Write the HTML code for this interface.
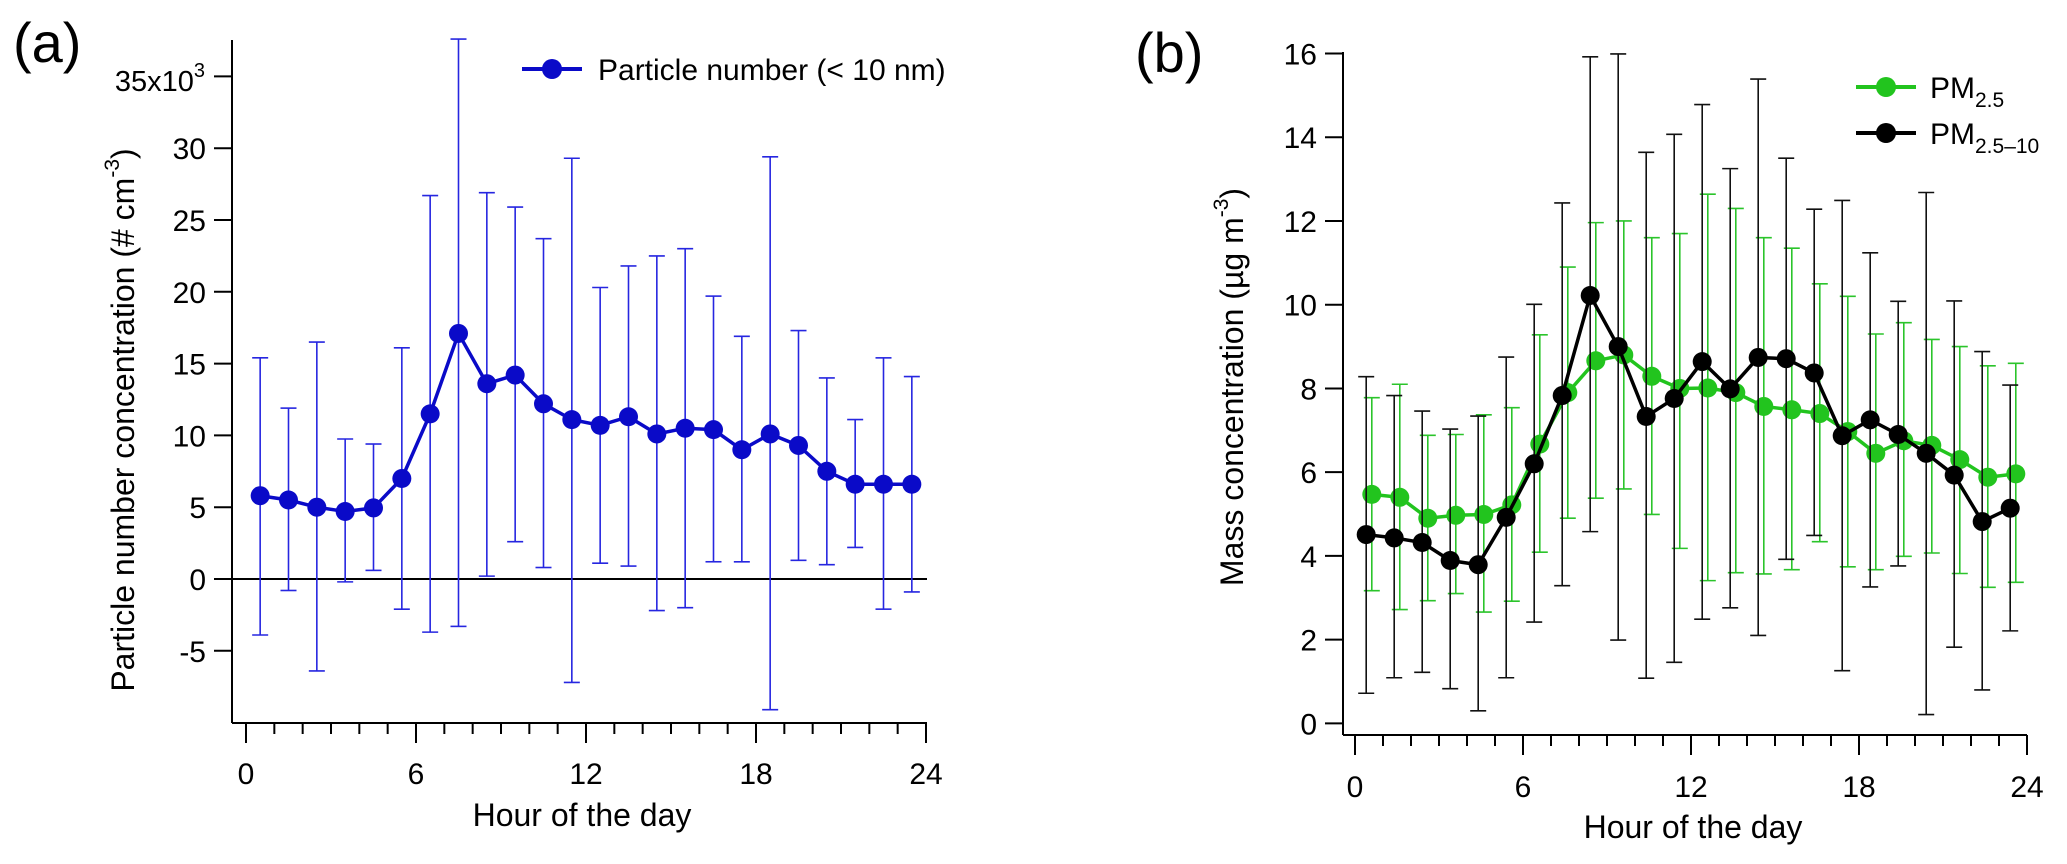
<!DOCTYPE html>
<html><head><meta charset="utf-8"><style>
html,body{margin:0;padding:0;background:#fff;}
svg{display:block;font-family:"Liberation Sans",Arial,sans-serif;}
</style></head><body>
<svg id="chart" width="2067" height="864" viewBox="0 0 2067 864" xmlns="http://www.w3.org/2000/svg">
<g id="pa"></g>
<g id="pb"></g>
</svg>
<script>
const hours = [0.5,1.5,2.5,3.5,4.5,5.5,6.5,7.5,8.5,9.5,10.5,11.5,12.5,13.5,14.5,15.5,16.5,17.5,18.5,19.5,20.5,21.5,22.5,23.5];
const pnMean = [5.8,5.5,5.0,4.7,4.95,7.0,11.5,17.1,13.6,14.2,12.2,11.1,10.7,11.3,10.1,10.5,10.4,9.0,10.1,9.3,7.5,6.6,6.6,6.6];
const pnHigh = [15.4,11.9,16.5,9.75,9.4,16.1,26.7,37.6,26.9,25.9,23.7,29.3,20.3,21.8,22.5,23.0,19.7,16.9,29.4,17.3,14.0,11.1,15.4,14.1];
const pnLow = [-3.9,-0.8,-6.4,-0.2,0.6,-2.1,-3.7,-3.3,0.2,2.6,0.8,-7.2,1.1,0.9,-2.2,-2.0,1.2,1.2,-9.1,1.3,1.0,2.2,-2.1,-0.9];
const pm25Mean = [5.47,5.4,4.9,4.97,4.99,5.22,6.67,7.9,8.66,8.8,8.29,8.0,8.01,7.9,7.57,7.49,7.4,6.97,6.45,6.75,6.64,6.3,5.88,5.96];
const pm25High = [7.78,8.1,6.88,6.9,7.37,7.54,9.28,10.9,11.96,12.0,11.6,11.7,12.64,12.3,11.6,11.35,10.5,10.2,9.3,9.57,9.17,9.0,8.54,8.6];
const pm25Low = [3.17,2.72,2.93,3.1,2.66,2.92,4.09,4.9,5.38,5.6,4.99,4.18,3.41,3.6,3.57,3.67,4.34,3.74,3.67,3.99,4.07,3.58,3.25,3.37];
const pmcMean = [4.51,4.43,4.32,3.89,3.79,4.92,6.2,7.83,10.22,9.0,7.33,7.76,8.64,7.99,8.74,8.71,8.37,6.87,7.25,6.9,6.45,5.93,4.82,5.14];
const pmcHigh = [8.28,7.83,7.46,7.03,7.34,8.75,10.01,12.43,15.92,15.99,13.64,14.07,14.78,13.25,15.39,13.5,12.28,12.49,11.24,10.08,12.68,10.09,8.88,8.08];
const pmcLow = [0.72,1.09,1.22,0.83,0.3,1.09,2.42,3.29,4.58,1.99,1.08,1.46,2.49,2.76,2.1,3.92,4.49,1.26,3.26,3.76,0.21,1.82,0.8,2.21];
const xTicks = [0,6,12,18,24];
const aTicks = [-5,0,5,10,15,20,25,30,35];
const bTicks = [0,2,4,6,8,10,12,14,16];

const NS="http://www.w3.org/2000/svg";
function mk(parent,tag,attrs,text){const e=document.createElementNS(NS,tag);for(const k in attrs)e.setAttribute(k,attrs[k]);if(text!==undefined)e.textContent=text;parent.appendChild(e);return e;}

function axes(g,P,yTicks,yfmt){
  let e=mk(g,'line',{x1:P.axX,y1:P.yTop,x2:P.axX,y2:P.axY,stroke:'#000','stroke-width':2});
  
  
  e=mk(g,'line',{x1:P.axX,y1:P.axY,x2:P.xEnd,y2:P.axY,stroke:'#000','stroke-width':2});
  
  
  yTicks.forEach(t=>{
    const y=P.y(t);
    mk(g,'line',{x1:P.axX-18,y1:y,x2:P.axX,y2:y,stroke:'#000','stroke-width':2});
    const tx=mk(g,'text',{x:P.axX-26,y:y+11,'text-anchor':'end','font-size':30},yfmt(t));
    
    
  });
  for(let h=0;h<=24;h++){
    const x=P.x(h);const major=h%6===0;
    mk(g,'line',{x1:x,y1:P.axY,x2:x,y2:P.axY+(major?20:11),stroke:'#000','stroke-width':2});
  }
  xTicks.forEach(t=>{
    const tx=mk(g,'text',{x:P.x(t),y:P.tickY,'text-anchor':'middle','font-size':30},String(t));
    
    
  });
}
function series(g,P,means,hi,lo,off,color,ecolor,name){
  const sg=mk(g,'g',{});
  
  
  hours.forEach((h,i)=>{
    const x=P.x(h+off);
    mk(sg,'line',{x1:x,y1:P.y(hi[i]),x2:x,y2:P.y(lo[i]),stroke:ecolor,'stroke-width':1.6});
    mk(sg,'line',{x1:x-8,y1:P.y(hi[i]),x2:x+8,y2:P.y(hi[i]),stroke:ecolor,'stroke-width':1.6});
    mk(sg,'line',{x1:x-8,y1:P.y(lo[i]),x2:x+8,y2:P.y(lo[i]),stroke:ecolor,'stroke-width':1.6});
  });
  mk(sg,'polyline',{points:hours.map((h,i)=>P.x(h+off)+','+P.y(means[i])).join(' '),fill:'none',stroke:color,'stroke-width':3.5});
  hours.forEach((h,i)=>{
    const c=mk(sg,'circle',{cx:P.x(h+off),cy:P.y(means[i]),r:9.5,fill:color});
    
    
  });
}

// Panel A
const ga=document.getElementById('pa');
const PA={axX:232,yTop:40,axY:723,xEnd:927,tickY:784,x:h=>246+h*(680/24),y:v=>579-v*14.36};
axes(ga,PA,aTicks,t=>t===35?'':String(t));
let t=mk(ga,'text',{x:205,y:91,'text-anchor':'end','font-size':29});
t.innerHTML='35x10<tspan dy="-14" font-size="20">3</tspan>';


let zl=mk(ga,'line',{x1:PA.axX,y1:PA.y(0),x2:927,y2:PA.y(0),stroke:'#000','stroke-width':2});


series(ga,PA,pnMean,pnHigh,pnLow,0,'#0a0ac8','#2626e0','particle-number-series');
t=mk(ga,'text',{x:13,y:62,'font-size':56},'(a)');


t=mk(ga,'text',{x:582,y:826,'text-anchor':'middle','font-size':32},'Hour of the day');


t=mk(ga,'text',{x:0,y:0,'text-anchor':'middle','font-size':32,transform:'translate(134,420) rotate(-90)'});
t.innerHTML='Particle number concentration  (# cm<tspan dy="-15" font-size="21">-3</tspan><tspan dy="15">)</tspan>';


let lg=mk(ga,'g',{});


mk(lg,'line',{x1:522,y1:69,x2:582,y2:69,stroke:'#0a0ac8','stroke-width':4});
mk(lg,'circle',{cx:552,cy:69,r:10,fill:'#0a0ac8'});
mk(lg,'text',{x:598,y:80,'font-size':30},'Particle number (< 10 nm)');

// Panel B
const gb=document.getElementById('pb');
const PB={axX:1343,yTop:52,axY:735,xEnd:2027,tickY:797,x:h=>1355+h*(672/24),y:v=>723.4-v*41.87};
axes(gb,PB,bTicks,t=>String(t));
series(gb,PB,pm25Mean,pm25High,pm25Low,0.1,'#22c41e','#2bc42b','pm25-series');
series(gb,PB,pmcMean,pmcHigh,pmcLow,-0.1,'#000','#111','pm25-10-series');
t=mk(gb,'text',{x:1135,y:72,'font-size':56},'(b)');


t=mk(gb,'text',{x:1693,y:838,'text-anchor':'middle','font-size':32},'Hour of the day');


t=mk(gb,'text',{x:0,y:0,'text-anchor':'middle','font-size':32,transform:'translate(1243,387) rotate(-90)'});
t.innerHTML='Mass concentration (µg m<tspan dy="-15" font-size="21">-3</tspan><tspan dy="15">)</tspan>';


lg=mk(gb,'g',{});


mk(lg,'line',{x1:1856,y1:87,x2:1916,y2:87,stroke:'#22c41e','stroke-width':4});
mk(lg,'circle',{cx:1886,cy:87,r:10,fill:'#22c41e'});
mk(lg,'text',{x:1930,y:98,'font-size':30}).innerHTML='PM<tspan dy="9" font-size="21">2.5</tspan>';
lg=mk(gb,'g',{});


mk(lg,'line',{x1:1856,y1:133,x2:1916,y2:133,stroke:'#000','stroke-width':4});
mk(lg,'circle',{cx:1886,cy:133,r:10,fill:'#000'});
mk(lg,'text',{x:1930,y:144,'font-size':30}).innerHTML='PM<tspan dy="9" font-size="21">2.5–10</tspan>';
</script>
</body></html>
